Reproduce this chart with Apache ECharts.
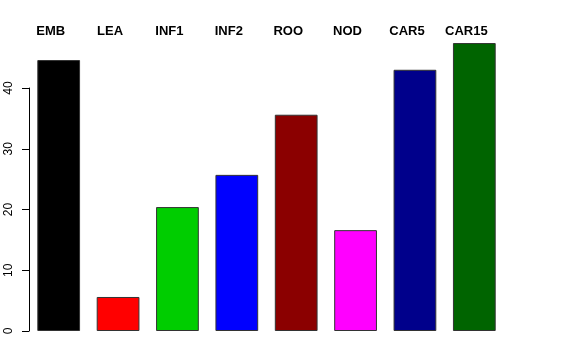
<!DOCTYPE html>
<html><head><meta charset="utf-8">
<script src="https://cdn.jsdelivr.net/npm/echarts@6/dist/echarts.min.js"></script>
<style>html,body{margin:0;padding:0;background:#fff}#c{width:576px;height:360px}</style>
</head><body><div id="c"></div>
<script>
const categories = ['EMB','LEA','INF1','INF2','ROO','NOD','CAR5','CAR15'];
const values = [44.6, 5.6, 20.4, 25.7, 35.6, 16.6, 43.0, 47.4];
const colors = ['#000000','#FF0000','#00CD00','#0000FF','#8B0000','#FF00FF','#00008B','#006400'];
const yTicks = [0,10,20,30,40];

const chart = echarts.init(document.getElementById('c'), null, {renderer:'canvas'});
chart.setOption({
  animation:false,
  backgroundColor:'#fff',
  grid:{left:29, right:72, top:88, bottom:29, containLabel:false},
  xAxis:{type:'category', data:categories, position:'top',
    axisLine:{show:false}, axisTick:{show:false},
    axisLabel:{margin:50, padding:[0,16,0,0], fontFamily:'Liberation Sans, Arial, sans-serif', fontWeight:'bold', fontSize:13, color:'#000'}},
  yAxis:{type:'value', min:yTicks[0], max:yTicks[yTicks.length-1], interval:10,
    splitLine:{show:false},
    axisLine:{show:true, lineStyle:{color:'#000', width:1}},
    axisTick:{show:true, length:7, lineStyle:{color:'#000'}},
    axisLabel:{rotate:90, margin:14, fontFamily:'Liberation Sans, Arial, sans-serif', fontSize:12, color:'#000'}},
  series:[{type:'bar', clip:false, barCategoryGap:'28%',
    data: values.map((v,i)=>({value:v, itemStyle:{color:colors[i]}})),
    itemStyle:{borderColor:'#333', borderWidth:1}}]
});
</script></body></html>
